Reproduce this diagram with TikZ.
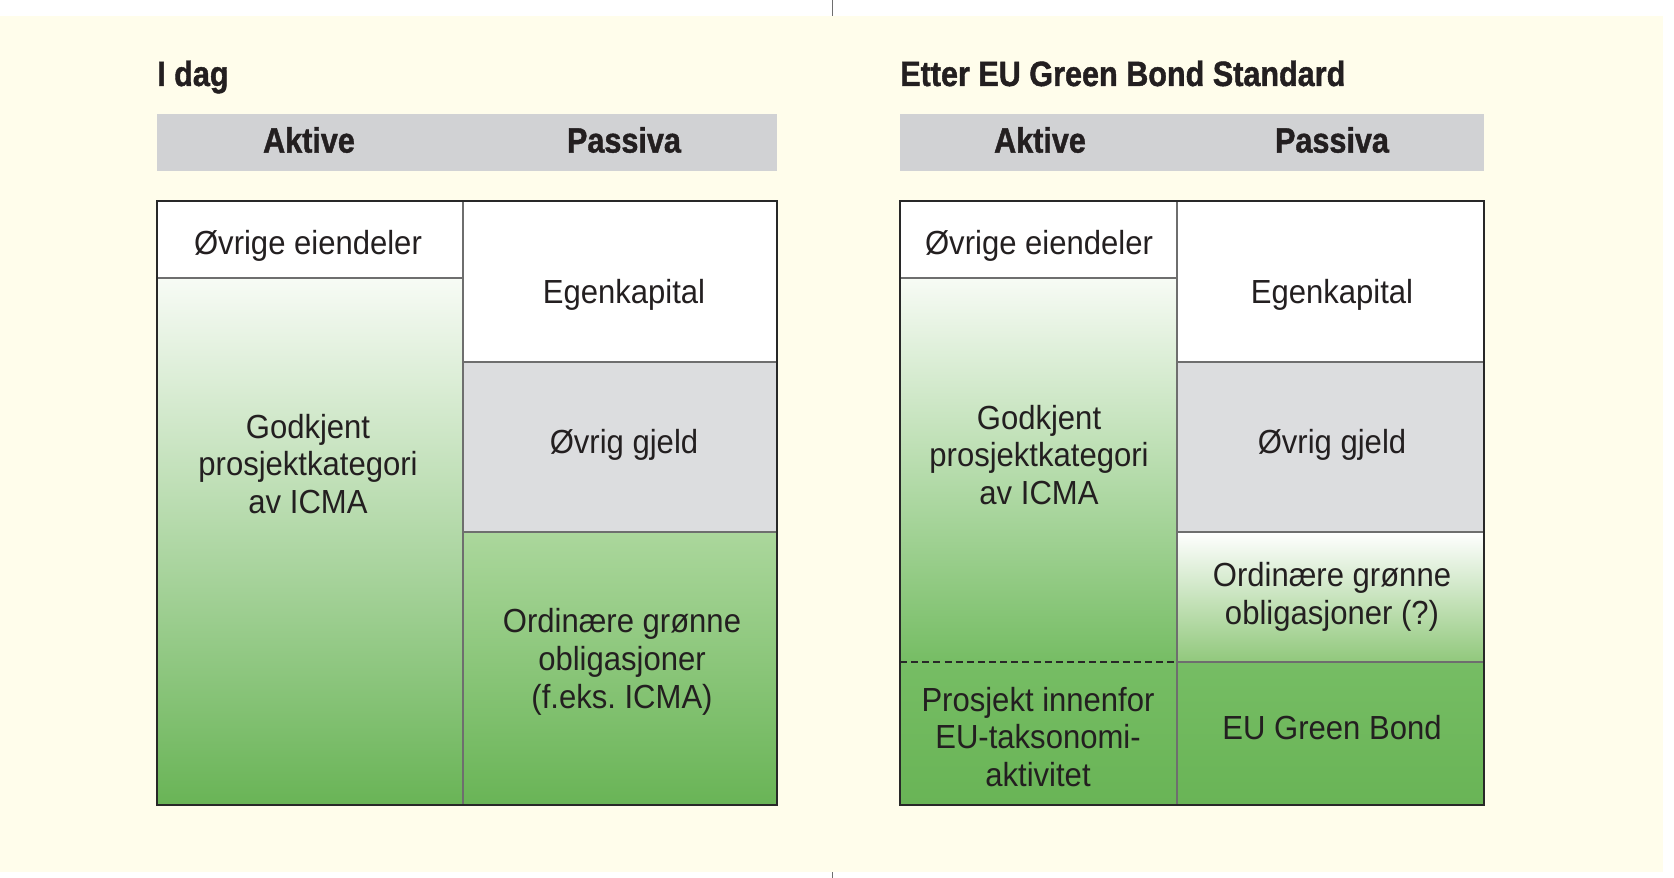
\documentclass[tikz,border=0pt]{standalone}
\usepackage{fontspec}
\setmainfont{Liberation Sans}[FakeStretch=0.93]
\newfontfamily\headfont{Liberation Sans}[FakeStretch=0.87, BoldFeatures={FakeBold=1.2}]
\usetikzlibrary{positioning}

\definecolor{bgyellow}{RGB}{255,253,235}
\definecolor{headgray}{RGB}{209,210,212}
\definecolor{debtgray}{RGB}{220,221,223}
\definecolor{linegray}{RGB}{110,110,110}
\definecolor{framegray}{RGB}{40,40,40}
\definecolor{ink}{RGB}{35,31,32}
\definecolor{paleg}{RGB}{247,251,245}
\definecolor{lightg}{RGB}{171,215,156}
\definecolor{midg}{RGB}{145,200,124}
\definecolor{greenT}{RGB}{118,189,100}
\definecolor{greenB}{RGB}{105,180,86}

\begin{document}
\frenchspacing
\begin{tikzpicture}[
    x=0.03cm, y=-0.03cm,
    font=\fontsize{28.5}{32.3}\selectfont,
    text=ink
]
\tikzset{
    title/.style = {anchor=base west, inner sep=0pt, font=\headfont\bfseries\fontsize{30}{36}\selectfont},
    head/.style = {inner sep=0pt, font=\headfont\bfseries\fontsize{30}{36}\selectfont},
    txt/.style = {inner sep=0pt, align=center},
    cell/.style = {draw=linegray, line width=1.3pt},
    frame/.style = {draw=framegray, line width=1.4pt},
    dashline/.style = {draw=framegray, line width=1.3pt, dash pattern=on 6pt off 3.5pt},
    tick/.style = {draw=linegray, line width=0.8pt}
}
\useasboundingbox (0,0) rectangle (1674,878);
\fill[bgyellow] (0,16) rectangle (1663,872);
\draw[tick] (832,0) -- (832,16);
\draw[tick] (832,872) -- (832,878);

% I dag
\node[title] (ltitle) at (157,86) {I dag};
\fill[headgray] (157,114) rectangle (777,171);
\node[head] (lakt) at (309,140) {Aktive};
\node[head] (lpas) at (624,140) {Passiva};

\path[cell, fill=white] (157,201) rectangle (463,278);
\path[cell, top color=paleg, bottom color=greenB] (157,278) rectangle (463,805);
\path[cell, fill=white] (463,201) rectangle (777,362);
\path[cell, fill=debtgray] (463,362) rectangle (777,532);
\path[cell, top color=lightg, bottom color=greenB] (463,532) rectangle (777,805);
\path[frame] (157,201) rectangle (777,805);

\node[txt] (lae) at (308,246) {Øvrige eiendeler};
\node[txt] (lgk) at (308,464) {Godkjent\\prosjektkategori\\av ICMA};
\node[txt] (lek) at (624,295) {Egenkapital};
\node[txt] (log) at (624,445) {Øvrig gjeld};
\node[txt] (lor) at (622,662) {Ordinære grønne\\obligasjoner\\(f.eks. ICMA)};

% Etter EU Green Bond Standard
\node[title] (rtitle) at (900,86) {Etter EU Green Bond Standard};
\fill[headgray] (900,114) rectangle (1484,171);
\node[head] (rakt) at (1040,140) {Aktive};
\node[head] (rpas) at (1332,140) {Passiva};

\path[top color=paleg, bottom color=greenT] (900,278) rectangle (1177,662);
\path[top color=greenT, bottom color=greenB] (900,662) rectangle (1177,805);
\path[cell, fill=white] (900,201) rectangle (1177,278);
\path[cell, fill=white] (1177,201) rectangle (1484,362);
\path[cell, fill=debtgray] (1177,362) rectangle (1484,532);
\path[cell, top color=white, bottom color=midg] (1177,532) rectangle (1484,662);
\path[cell, top color=greenT, bottom color=greenB] (1177,662) rectangle (1484,805);
\path[dashline] (900,662) -- (1177,662);
\path[frame] (900,201) rectangle (1484,805);

\node[txt] (rae) at (1039,246) {Øvrige eiendeler};
\node[txt] (rgk) at (1039,455) {Godkjent\\prosjektkategori\\av ICMA};
\node[txt] (rpi) at (1038,737) {Prosjekt innenfor\\EU-taksonomi-\\aktivitet};
\node[txt] (rek) at (1332,295) {Egenkapital};
\node[txt] (rog) at (1332,445) {Øvrig gjeld};
\node[txt] (ror) at (1332,597) {Ordinære grønne\\obligasjoner (?)};
\node[txt] (reu) at (1332,728) {EU Green Bond};
\end{tikzpicture}
\end{document}
